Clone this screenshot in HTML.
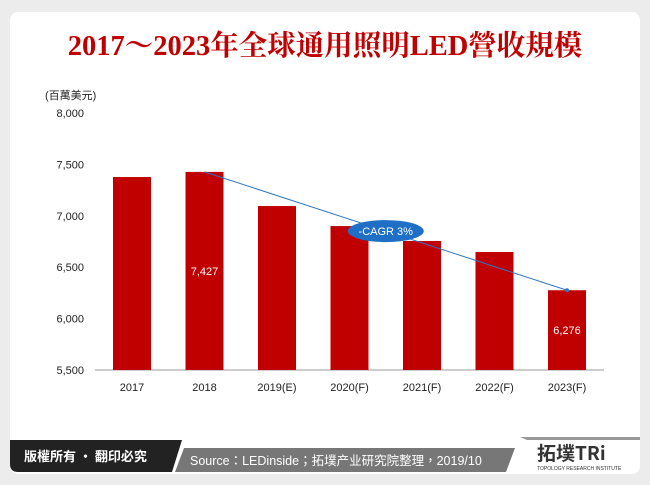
<!DOCTYPE html>
<html><head><meta charset="utf-8"><style>
body{margin:0;width:650px;height:485px;background:#ececec;overflow:hidden;font-family:"Liberation Sans","Noto Sans CJK TC",sans-serif}
#card{position:absolute;left:10px;top:12px;width:630px;height:462px;background:#fff;border-radius:8px}
#title{position:absolute;left:0;top:23px;width:650px;text-align:center;font-family:"Liberation Serif","Noto Serif CJK SC",serif;font-weight:bold;font-size:28.5px;color:#c00000}
</style></head><body>
<div id="card"></div>
<div id="title">2017～2023年全球通用照明LED營收規模</div>
<svg width="650" height="485" style="position:absolute;left:0;top:0" id="chart">
<text x="45" y="99" font-size="11" fill="#222" font-family="Liberation Sans,Noto Sans CJK TC,sans-serif">(百萬美元)</text>
<g id="axes"></g><g id="bars"></g><g id="overlay"></g>
<path d="M10 440 L182 440 L172 472 L18 472 Q10 472 10 464 Z" fill="#222"/>
<text x="24" y="461" font-size="13" font-weight="bold" fill="#fff" font-family="Noto Sans CJK TC,sans-serif">版權所有 · 翻印必究</text>
<path d="M184 448 L515 448 L506 472 L175 472 Z" fill="#777"/>
<text x="190" y="465" font-size="12.5" fill="#fff" font-family="Liberation Sans,Noto Sans CJK TC,sans-serif">Source：LEDinside；拓墣产业研究院整理，2019/10</text>
<path d="M520 437 L640 437 L640 440 L527 440 Z" fill="#999"/>
<text x="537" y="460" font-size="19" font-weight="bold" fill="#333" font-family="Noto Sans CJK TC,sans-serif">拓墣TRi</text>
<text x="537" y="470" font-size="5" fill="#333">TOPOLOGY RESEARCH INSTITUTE</text>
</svg>
<script>
const categories=["2017","2018","2019(E)","2020(F)","2021(F)","2022(F)","2023(F)"];
const values=[7377,7427,7095,6900,6755,6648,6276];
const labels=["","7,427","","","","","6,276"];
const ticks=[5500,6000,6500,7000,7500,8000];
const ns="http://www.w3.org/2000/svg";
const y=v=>370-(v-5500)/2500*257;
const x=i=>132+i*72.5;
function mk(p,t,a){const e=document.createElementNS(ns,t);for(const k in a)e.setAttribute(k,a[k]);p.appendChild(e);return e;}
const ax=document.getElementById('axes'),bg=document.getElementById('bars'),ov=document.getElementById('overlay');
ticks.forEach(t=>{const e=mk(ax,'text',{x:84,y:y(t)+4,'text-anchor':'end','font-size':11,fill:'#222'});e.textContent=t.toLocaleString('en-US');

});
const base=mk(ax,'line',{x1:95,x2:604,y1:370,y2:370,stroke:'#999'});


categories.forEach((c,i)=>{
const r=mk(bg,'rect',{x:x(i)-19,y:y(values[i]),width:38,height:370-y(values[i]),fill:'#c00000'});


const t=mk(ax,'text',{x:x(i),y:391,'text-anchor':'middle','font-size':11,fill:'#222'});t.textContent=c;


if(labels[i]){const l=mk(bg,'text',{x:x(i),y:y(values[i])+(370-y(values[i]))/2+4,'text-anchor':'middle','font-size':11,fill:'#fff'});l.textContent=labels[i];

}
});
const ln=mk(ov,'line',{x1:x(1),y1:y(values[1]),x2:x(6),y2:y(values[6]),stroke:'#2e75c6','stroke-width':1});


mk(ov,'circle',{cx:x(6),cy:y(values[6]),r:2,fill:'#2e75c6'});
const mx=(x(1)+x(6))/2,my=(y(values[1])+y(values[6]))/2;
const el=mk(ov,'ellipse',{cx:mx,cy:my,rx:38,ry:11,fill:'#1f6fc6'});


const ct=mk(ov,'text',{x:mx,y:my+4,'text-anchor':'middle','font-size':11,fill:'#fff'});ct.textContent='-CAGR 3%';


</script>
</body></html>
